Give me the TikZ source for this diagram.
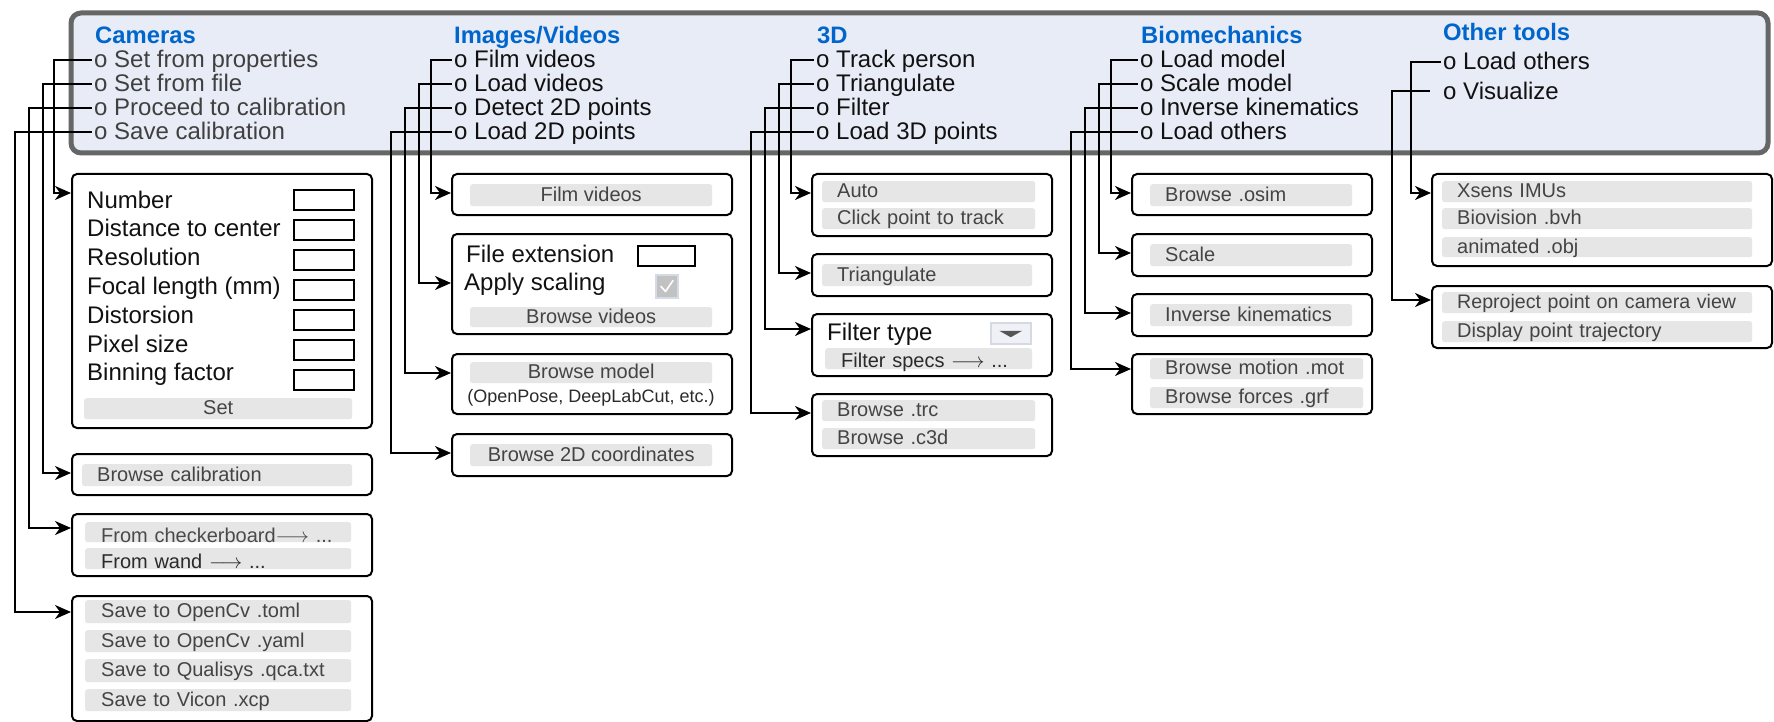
\documentclass[tikz,border=0pt]{standalone}
\usepackage{fontspec}
\setmainfont{Liberation Sans}
\usetikzlibrary{arrows.meta}
\definecolor{panelfill}{HTML}{E8ECF6}
\definecolor{panelline}{HTML}{666666}
\definecolor{titleblue}{HTML}{0066CC}
\definecolor{btngray}{HTML}{E6E6E6}
\definecolor{btntext}{HTML}{444444}
\definecolor{camtext}{HTML}{404040}
\definecolor{itemtext}{HTML}{111111}
\definecolor{darktext}{HTML}{2A2A2A}
\definecolor{chkfill}{HTML}{C2C2C2}
\definecolor{chkline}{HTML}{D3DBE8}
\definecolor{ddfill}{HTML}{EFF1F6}
\definecolor{ddline}{HTML}{D5D9E3}
\definecolor{ddtri}{HTML}{555555}
\begin{document}
\begin{tikzpicture}[x=1pt,y=-1pt,
 conn/.style={line width=2pt, -{Stealth[length=16pt,width=14pt,inset=5pt]}},
 title/.style={anchor=west, inner sep=0pt, font=\fontsize{23.8}{24}\selectfont\bfseries, text=titleblue, text height=17pt, text depth=0pt},
 item/.style={anchor=west, inner xsep=2pt, inner ysep=0pt, font=\fontsize{24}{24}\selectfont, text=itemtext, text height=16pt, text depth=0pt},
 camitem/.style={item, text=camtext},
 lbl/.style={anchor=west, inner sep=0pt, font=\fontsize{24}{24}\selectfont, text=itemtext, text height=16pt, text depth=0pt},
 panelbox/.style={draw=black, line width=2pt, rounded corners=5pt, anchor=north west, inner sep=0pt, fill=white},
 btn/.style={fill=btngray, rounded corners=2.5pt, anchor=north west, inner ysep=0pt, font=\fontsize{20}{20}\selectfont, text=btntext, text height=15pt, text depth=3pt},
 btnl/.style={btn, align=left, inner xsep=15pt},
 btnc/.style={btn, align=center, inner xsep=0pt},
 field/.style={draw=black, line width=2pt, anchor=north west, minimum width=58pt, minimum height=19pt, inner sep=0pt}
]
\useasboundingbox (0,0) rectangle (1774,722);

% main panel
\draw[line width=5pt, draw=panelline, fill=panelfill, rounded corners=10pt] (71,13) rectangle (1768,153);

% titles
\node[title] (tcam) at (95,35) {Cameras};
\node[title] (timg) at (454,35) {Images/Videos};
\node[title] (t3d) at (817,35) {3D};
\node[title] (tbio) at (1141,35) {Biomechanics};
\node[title] (toth) at (1443,32) {Other tools};

% items
\node[camitem] (cam1) at (92,60) {o Set from properties};
\node[camitem] (cam2) at (92,84) {o Set from file};
\node[camitem] (cam3) at (92,108) {o Proceed to calibration};
\node[camitem] (cam4) at (92,132) {o Save calibration};

\node[item] (img1) at (452,60) {o Film videos};
\node[item] (img2) at (452,84) {o Load videos};
\node[item] (img3) at (452,108) {o Detect 2D points};
\node[item] (img4) at (452,132) {o Load 2D points};

\node[item] (td1) at (814,60) {o Track person};
\node[item] (td2) at (814,84) {o Triangulate};
\node[item] (td3) at (814,108) {o Filter};
\node[item] (td4) at (814,132) {o Load 3D points};

\node[item] (bio1) at (1138,60) {o Load model};
\node[item] (bio2) at (1138,84) {o Scale model};
\node[item] (bio3) at (1138,108) {o Inverse kinematics};
\node[item] (bio4) at (1138,132) {o Load others};

\node[item] (ot1) at (1441,62) {o Load others};
\node[item] (ot2) at (1441,92) {o Visualize};

% ---------- Cameras boxes
\node[panelbox, minimum width=300pt, minimum height=254pt] (camprop) at (71,173) {};
\foreach \t [count=\i from 0] in {Number, Distance to center, Resolution, Focal length (mm), Distorsion, Pixel size, Binning factor} {
  \node[lbl] (cl\i) at (87,{200+28.8*\i}) {\t};
  \node[field, minimum width=60pt, minimum height=20pt] (cf\i) at (293,{189+30*\i}) {};
}
\node[btnc, minimum width=268pt, minimum height=21pt] (bset) at (84,398) {Set};

\node[panelbox, minimum width=300pt, minimum height=41pt] (calib) at (71,453) {};
\node[btnl, text width=240pt, minimum height=22pt] (bcal) at (82,464) {Browse calibration};

\node[panelbox, minimum width=300pt, minimum height=62pt] (proc) at (71,513) {};
\node[btnl, inner xsep=16pt, text width=234pt, minimum height=20pt, text=darktext!85!white, text height=20pt, text depth=0pt] (bchk) at (85,522) {From checkerboard$\longrightarrow$ ...};
\node[btnl, inner xsep=16pt, text width=234pt, minimum height=21pt, text=darktext, text height=19pt, text depth=0pt] (bwand) at (85,548) {From wand $\longrightarrow$ ...};

\node[panelbox, minimum width=300pt, minimum height=125pt] (save) at (71,595) {};
\node[btnl, inner xsep=16pt, text width=234pt, minimum height=23pt] (bs1) at (85,600) {Save to OpenCv .toml};
\node[btnl, inner xsep=16pt, text width=234pt, minimum height=22pt] (bs2) at (85,630) {Save to OpenCv .yaml};
\node[btnl, inner xsep=16pt, text width=234pt, minimum height=23pt] (bs3) at (85,659) {Save to Qualisys .qca.txt};
\node[btnl, inner xsep=16pt, text width=234pt, minimum height=22pt] (bs4) at (85,689) {Save to Vicon .xcp};

% ---------- Images/Videos boxes
\node[panelbox, minimum width=280pt, minimum height=41pt] (film) at (451,173) {};
\node[btnc, minimum width=242pt, minimum height=22pt] (bfilm) at (470,184) {Film videos};

\node[panelbox, minimum width=280pt, minimum height=100pt] (vidload) at (451,233) {};
\node[lbl] (lext) at (466,254) {File extension};
\node[field, minimum width=57pt, minimum height=20pt] (fext) at (637,245) {};
\node[lbl] (lscal) at (464,282) {Apply scaling};
\node[draw=chkline, fill=chkfill, line width=2pt, anchor=north west, minimum width=22pt, minimum height=23pt, inner sep=0pt] (chk) at (655,274) {};
\draw[white, line width=1.6pt, line cap=round, line join=round] ([xshift=-6pt,yshift=0pt]chk.center) -- ([xshift=-1.5pt,yshift=-5pt]chk.center) -- ([xshift=6pt,yshift=6pt]chk.center);
\node[btnc, minimum width=242pt, minimum height=20pt] (bvid) at (470,307) {Browse videos};

\node[panelbox, minimum width=280pt, minimum height=60pt] (model) at (451,353) {};
\node[btnc, minimum width=242pt, minimum height=21pt] (bmodel) at (470,362) {Browse model};
\node[inner sep=0pt, font=\fontsize{18}{18}\selectfont, text=darktext, text height=13pt, text depth=0pt] (lmodel) at (591,396) {(OpenPose, DeepLabCut, etc.)};

\node[panelbox, minimum width=280pt, minimum height=42pt] (load2d) at (451,433) {};
\node[btnc, minimum width=242pt, minimum height=22pt] (b2d) at (470,444) {Browse 2D coordinates};

% ---------- 3D boxes
\node[panelbox, minimum width=240pt, minimum height=62pt] (track) at (811,173) {};
\node[btnl, text width=183pt, minimum height=21pt] (bauto) at (822,181) {Auto};
\node[btnl, text width=183pt, minimum height=21pt] (bclick) at (822,208) {Click point to track};

\node[panelbox, minimum width=240pt, minimum height=42pt] (tri) at (811,253) {};
\node[btnl, text width=180pt, minimum height=22pt] (btri) at (822,264) {Triangulate};

\node[panelbox, minimum width=240pt, minimum height=62pt] (filt) at (811,313) {};
\node[lbl] (lfilt) at (827,332) {Filter type};
\node[draw=ddline, fill=ddfill, line width=1.5pt, anchor=north west, minimum width=40pt, minimum height=21pt, inner sep=0pt] (dd) at (990,322) {};
\fill[ddtri] ([xshift=-11.5pt,yshift=2.5pt]dd.center) -- ([xshift=11.5pt,yshift=2.5pt]dd.center) -- ([yshift=-4pt]dd.center) -- cycle;
\node[btnl, inner xsep=16pt, text width=175pt, minimum height=21pt, text=darktext, text height=17pt, text depth=0pt] (bspec) at (825,348) {Filter specs $\longrightarrow$ ...};

\node[panelbox, minimum width=240pt, minimum height=62pt] (trc) at (811,393) {};
\node[btnl, text width=183pt, minimum height=21pt] (btrc) at (822,400) {Browse .trc};
\node[btnl, text width=183pt, minimum height=21pt] (bc3d) at (822,428) {Browse .c3d};

% ---------- Biomechanics boxes
\node[panelbox, minimum width=240pt, minimum height=41pt] (osim) at (1131,173) {};
\node[btnl, text width=172pt, minimum height=22pt] (bosim) at (1150,184) {Browse .osim};

\node[panelbox, minimum width=240pt, minimum height=42pt] (scale) at (1131,233) {};
\node[btnl, text width=172pt, minimum height=22pt] (bscale) at (1150,244) {Scale};

\node[panelbox, minimum width=240pt, minimum height=42pt] (ik) at (1131,293) {};
\node[btnl, text width=172pt, minimum height=22pt] (bik) at (1150,304) {Inverse kinematics};

\node[panelbox, minimum width=240pt, minimum height=60pt] (mot) at (1131,353) {};
\node[btnl, text width=183pt, minimum height=21pt] (bmot) at (1150,358) {Browse motion .mot};
\node[btnl, text width=183pt, minimum height=21pt] (bgrf) at (1150,387) {Browse forces .grf};

% ---------- Other tools boxes
\node[panelbox, minimum width=340pt, minimum height=92pt] (imu) at (1431,173) {};
\node[btnl, text width=280pt, minimum height=21pt] (bimu) at (1442,181) {Xsens IMUs};
\node[btnl, text width=280pt, minimum height=21pt] (bbvh) at (1442,208) {Biovision .bvh};
\node[btnl, text width=280pt, minimum height=20pt] (bobj) at (1442,237) {animated .obj};

\node[panelbox, minimum width=340pt, minimum height=62pt] (viz) at (1431,285) {};
\node[btnl, text width=280pt, minimum height=21pt, font=\fontsize{19.6}{20}\selectfont] (brep) at (1442,292) {\mbox{Reproject point on camera view}};
\node[btnl, text width=280pt, minimum height=21pt] (btraj) at (1442,321) {Display point trajectory};

% ---------- connectors
\draw[conn] (cam1.west) -- ++(-38,0) |- ([yshift=-20pt]camprop.north west);
\draw[conn] (cam2.west) -- ++(-49,0) |- ([yshift=-20pt]calib.north west);
\draw[conn] (cam3.west) -- ++(-63,0) |- ([yshift=-15pt]proc.north west);
\draw[conn] (cam4.west) -- ++(-77,0) |- ([yshift=-17pt]save.north west);

\draw[conn] (img1.west) -- ++(-21,0) |- ([yshift=-20pt]film.north west);
\draw[conn] (img2.west) -- ++(-33,0) |- ([yshift=-50pt]vidload.north west);
\draw[conn] (img3.west) -- ++(-47,0) |- ([yshift=-20pt]model.north west);
\draw[conn] (img4.west) -- ++(-61,0) |- ([yshift=-20pt]load2d.north west);

\draw[conn] (td1.west) -- ++(-23,0) |- ([yshift=-20pt]track.north west);
\draw[conn] (td2.west) -- ++(-35,0) |- ([yshift=-20pt]tri.north west);
\draw[conn] (td3.west) -- ++(-49,0) |- ([yshift=-16pt]filt.north west);
\draw[conn] (td4.west) -- ++(-63,0) |- ([yshift=-20pt]trc.north west);

\draw[conn] (bio1.west) -- ++(-27,0) |- ([yshift=-20pt]osim.north west);
\draw[conn] (bio2.west) -- ++(-39,0) |- ([yshift=-20pt]scale.north west);
\draw[conn] (bio3.west) -- ++(-53,0) |- ([yshift=-20pt]ik.north west);
\draw[conn] (bio4.west) -- ++(-67,0) |- ([yshift=-16pt]mot.north west);

\draw[conn] (ot1.west) -- ++(-30,0) |- ([yshift=-20pt]imu.north west);
\draw[conn] ([xshift=-11pt,yshift=1pt]ot2.west) -- ++(-38,0) |- ([yshift=-15pt]viz.north west);
\end{tikzpicture}
\end{document}
